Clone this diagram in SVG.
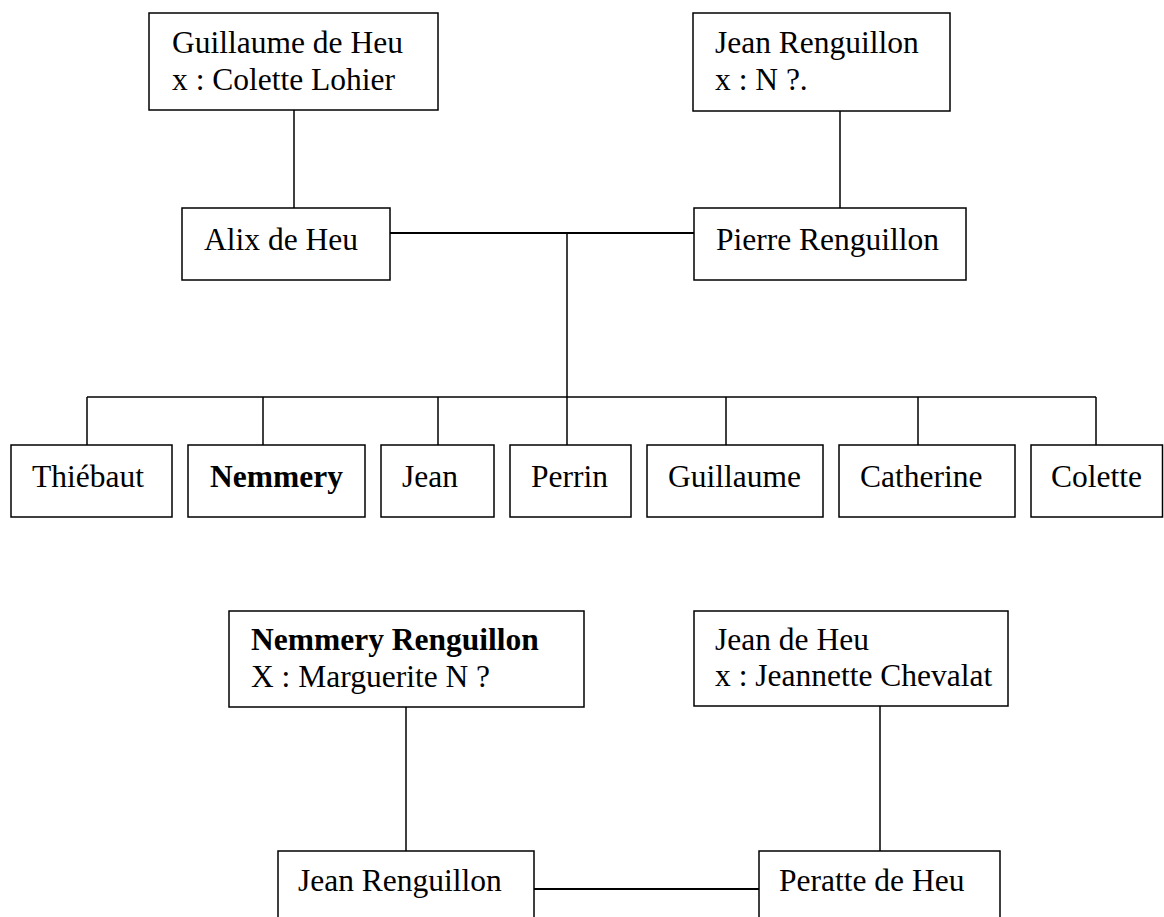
<svg xmlns="http://www.w3.org/2000/svg" width="1164" height="917" viewBox="0 0 1164 917">
<style>
rect.box{fill:#fff;stroke:#000;stroke-width:1.5}
text{font-family:"Liberation Serif","Times New Roman",serif;font-size:31.5px;fill:#000}
text.b{font-weight:bold}
.conn line{stroke:#000;stroke-width:1.5}
.conn line.thick{stroke-width:2}
</style>
<rect width="1164" height="917" fill="#fff"/>
<g class="conn">
  <line x1="294" y1="110" x2="294" y2="208"/>
  <line x1="840" y1="111" x2="840" y2="208"/>
  <line class="thick" x1="390" y1="233" x2="694" y2="233"/>
  <line x1="567" y1="233" x2="567" y2="397"/>
  <line x1="87" y1="397" x2="1096" y2="397"/>
  <line x1="87" y1="397" x2="87" y2="445"/>
  <line x1="263" y1="397" x2="263" y2="445"/>
  <line x1="438" y1="397" x2="438" y2="445"/>
  <line x1="567" y1="397" x2="567" y2="445"/>
  <line x1="726" y1="397" x2="726" y2="445"/>
  <line x1="918" y1="397" x2="918" y2="445"/>
  <line x1="1096" y1="397" x2="1096" y2="445"/>
  <line x1="406" y1="707" x2="406" y2="851"/>
  <line x1="880" y1="706" x2="880" y2="851"/>
  <line class="thick" x1="534" y1="889" x2="759" y2="889"/>
</g>
<g id="guillaume-de-heu">
  <rect class="box" x="149" y="13" width="289" height="97"/>
  <text x="172" y="53">Guillaume de Heu</text>
  <text x="172" y="90">x : Colette Lohier</text>
</g>
<g id="jean-renguillon-sr">
  <rect class="box" x="693" y="13" width="257" height="98"/>
  <text x="715" y="53">Jean Renguillon</text>
  <text x="715" y="90">x : N ?.</text>
</g>
<g id="alix-de-heu">
  <rect class="box" x="182" y="208" width="208" height="72"/>
  <text x="204" y="250">Alix de Heu</text>
</g>
<g id="pierre-renguillon">
  <rect class="box" x="694" y="208" width="272" height="72"/>
  <text x="716" y="250">Pierre Renguillon</text>
</g>
<g id="thiebaut">
  <rect class="box" x="11" y="445" width="161" height="72"/>
  <text x="32" y="487">Thiébaut</text>
</g>
<g id="nemmery">
  <rect class="box" x="188" y="445" width="177" height="72"/>
  <text class="b" x="210" y="487">Nemmery</text>
</g>
<g id="jean">
  <rect class="box" x="381" y="445" width="113" height="72"/>
  <text x="402" y="487">Jean</text>
</g>
<g id="perrin">
  <rect class="box" x="510" y="445" width="121" height="72"/>
  <text x="531" y="487">Perrin</text>
</g>
<g id="guillaume">
  <rect class="box" x="647" y="445" width="176" height="72"/>
  <text x="668" y="487">Guillaume</text>
</g>
<g id="catherine">
  <rect class="box" x="839" y="445" width="176" height="72"/>
  <text x="860" y="487">Catherine</text>
</g>
<g id="colette">
  <rect class="box" x="1031" y="445" width="131.5" height="72"/>
  <text x="1051" y="487">Colette</text>
</g>
<g id="nemmery-renguillon">
  <rect class="box" x="229" y="611" width="355" height="96"/>
  <text class="b" x="251" y="650">Nemmery Renguillon</text>
  <text x="251" y="687">X : Marguerite N ?</text>
</g>
<g id="jean-de-heu">
  <rect class="box" x="694" y="611" width="314" height="95"/>
  <text x="715" y="650">Jean de Heu</text>
  <text x="715" y="686">x : Jeannette Chevalat</text>
</g>
<g id="jean-renguillon">
  <rect class="box" x="278" y="851" width="256" height="90"/>
  <text x="298" y="891">Jean Renguillon</text>
</g>
<g id="peratte-de-heu">
  <rect class="box" x="759" y="851" width="241" height="90"/>
  <text x="779" y="891">Peratte de Heu</text>
</g>
</svg>
